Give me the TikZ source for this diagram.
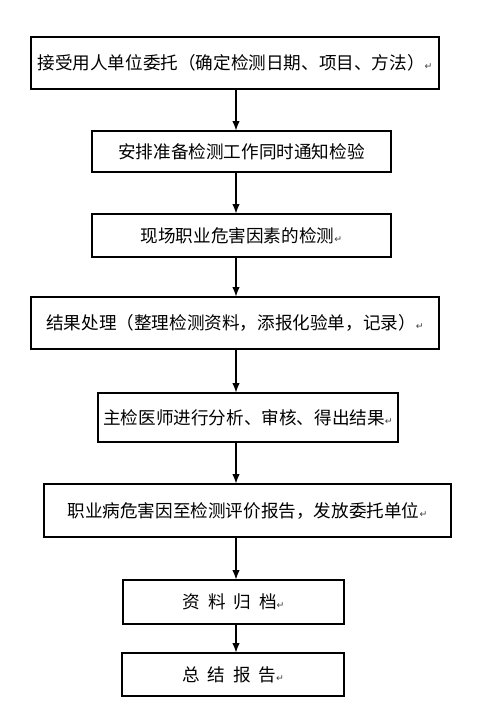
\documentclass[tikz,border=0pt]{standalone}
\usepackage{fontspec}
\newfontfamily\cjk{Noto Sans CJK SC}
\newfontfamily\symf{DejaVu Sans}
\usetikzlibrary{arrows.meta}
\newcommand{\pmark}{{\symf\fontsize{7pt}{8pt}\selectfont\color{black!75}↵}}
\begin{document}
\begin{tikzpicture}[x=0.75pt,y=-0.75pt,
  flowbox/.style={draw=black,line width=0.8pt,inner sep=0pt,
    font=\cjk\fontsize{13.2pt}{16pt}\selectfont},
  flowarrow/.style={-{Latex[length=7pt,width=5.5pt]},line width=0.8pt}]
\useasboundingbox (0,0) rectangle (493,725);
\fill[white] (0,0) rectangle (493,725);
\coordinate (ax) at (236,0);
\node[flowbox,minimum width=306pt,minimum height=39pt] (b1) at (235,63)
  {接受用人单位委托（确定检测日期、项目、方法）\pmark};
\node[flowbox,minimum width=224.25pt,minimum height=30.75pt] (b2) at (241.5,151.5)
  {安排准备检测工作同时通知检验};
\node[flowbox,minimum width=224.25pt,minimum height=32.25pt] (b3) at (241.5,235.5)
  {现场职业危害因素的检测\pmark};
\node[flowbox,minimum width=306pt,minimum height=39pt] (b4) at (235,323)
  {结果处理（整理检测资料，添报化验单，记录）\pmark};
\node[flowbox,minimum width=225pt,minimum height=36.75pt] (b5) at (248,417.5)
  {主检医师进行分析、审核、得出结果\pmark};
\node[flowbox,minimum width=305.25pt,minimum height=39.75pt] (b6) at (247.5,510.5)
  {职业病危害因至检测评价报告，发放委托单位\pmark};
\node[flowbox,minimum width=165.75pt,minimum height=33pt] (b7) at (233.5,602)
  {资\hspace{0.45em}料\hspace{0.45em}归\hspace{0.45em}档\pmark};
\node[flowbox,minimum width=166.5pt,minimum height=32.25pt] (b8) at (233,674.5)
  {总\hspace{0.45em}结\hspace{0.45em}报\hspace{0.45em}告\pmark};
\draw[flowarrow] (b1.south -| ax) -- (b2.north -| ax);
\draw[flowarrow] (b2.south -| ax) -- (b3.north -| ax);
\draw[flowarrow] (b3.south -| ax) -- (b4.north -| ax);
\draw[flowarrow] (b4.south -| ax) -- (b5.north -| ax);
\draw[flowarrow] (b5.south -| ax) -- (b6.north -| ax);
\draw[flowarrow] (b6.south -| ax) -- (b7.north -| ax);
\draw[flowarrow] (b7.south -| ax) -- (b8.north -| ax);
\end{tikzpicture}
\end{document}
